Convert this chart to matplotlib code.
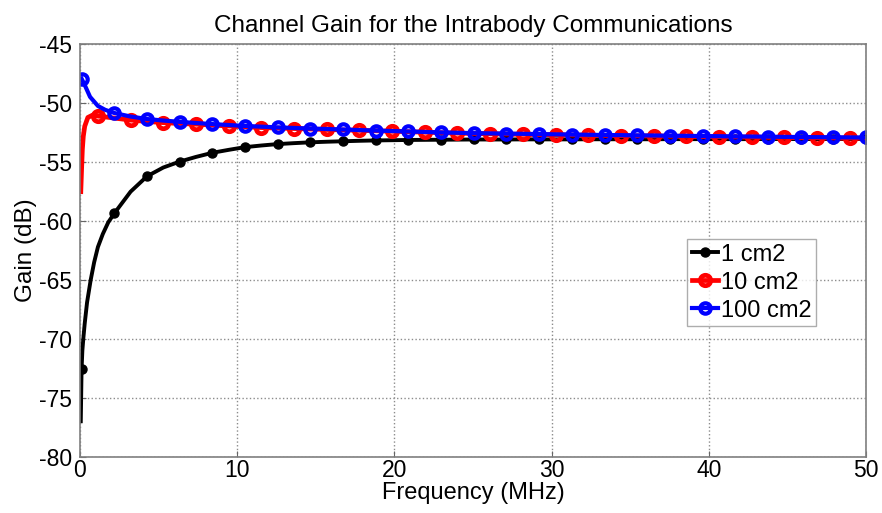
import numpy as np
import matplotlib.pyplot as plt

plt.rcParams['font.family'] = ['Liberation Sans', 'DejaVu Sans']
plt.rcParams['axes.unicode_minus'] = False

# frequency grid (MHz) shared by the three electrode sizes
freq = np.linspace(0.1, 50, 49)

gain_1cm2 = [-72.6, -62.2, -59.35, -57.5, -56.2, -55.45, -54.95, -54.55, -54.2, -53.95,
             -53.72, -53.58, -53.46, -53.38, -53.31, -53.26, -53.22, -53.18, -53.15, -53.13,
             -53.11, -53.1, -53.09, -53.08, -53.07, -53.07, -53.07, -53.06, -53.06, -53.06,
             -53.06, -53.05, -53.05, -53.05, -53.05, -53.05, -53.04, -53.04, -53.04, -53.04,
             -53.04, -53.04, -53.03, -53.03, -53.03, -53.03, -53.03, -53.03, -53.03]
gain_10cm2 = [-55.6, -51.08, -51.25, -51.42, -51.54, -51.64, -51.71, -51.77, -51.85, -51.92,
              -51.99, -52.06, -52.1, -52.14, -52.18, -52.22, -52.26, -52.29, -52.33, -52.37,
              -52.41, -52.45, -52.49, -52.53, -52.56, -52.59, -52.61, -52.63, -52.65, -52.67,
              -52.69, -52.71, -52.73, -52.74, -52.76, -52.78, -52.79, -52.81, -52.83, -52.84,
              -52.86, -52.87, -52.89, -52.9, -52.92, -52.93, -52.95, -52.96, -52.98]
gain_100cm2 = [-47.9, -50.22, -50.82, -51.12, -51.33, -51.46, -51.57, -51.67, -51.76, -51.84,
               -51.92, -51.98, -52.04, -52.09, -52.14, -52.18, -52.22, -52.27, -52.31, -52.35,
               -52.39, -52.43, -52.47, -52.5, -52.53, -52.55, -52.57, -52.59, -52.61, -52.63,
               -52.65, -52.67, -52.69, -52.7, -52.72, -52.73, -52.75, -52.76, -52.78, -52.79,
               -52.81, -52.82, -52.83, -52.85, -52.86, -52.87, -52.88, -52.89, -52.9]

# extra low-frequency samples where the curves change fast
low_f_1cm2 = [0.05, 0.15, 0.21, 0.3, 0.45, 0.68, 0.9, 1.45, 1.8]
low_g_1cm2 = [-77.0, -71.0, -70.0, -68.7, -66.9, -65.0, -63.5, -61.1, -60.1]
low_f_10cm2 = [0.05, 0.15, 0.21, 0.3, 0.5, 0.8]
low_g_10cm2 = [-57.5, -53.9, -52.8, -51.95, -51.2, -51.0]
low_f_100cm2 = [0.32, 0.64, 1.6]
low_g_100cm2 = [-48.5, -49.45, -50.55]

labels = ['1 cm2', '10 cm2', '100 cm2']


def merge(f_low, g_low, g):
    f = np.concatenate([f_low, freq])
    y = np.concatenate([g_low, g])
    order = np.argsort(f)
    return f[order], y[order]


def marker_idx(f, marks):
    return list(np.where(np.isin(f, marks))[0])


fig = plt.figure(figsize=(8.82, 5.13), dpi=100)
ax = fig.add_axes([0.0907, 0.110, 0.8912, 0.8033])

f1, y1 = merge(low_f_1cm2, low_g_1cm2, gain_1cm2)
f2, y2 = merge(low_f_10cm2, low_g_10cm2, gain_10cm2)
f3, y3 = merge(low_f_100cm2, low_g_100cm2, gain_100cm2)

ax.plot(f1, y1, color='black', lw=2.8, marker='o', ms=6.5, mfc='black', mec='black',
        markevery=marker_idx(f1, freq[::2]), label=labels[0])
ax.plot(f2, y2, color='red', lw=3.4, marker='o', ms=7.5, mfc='none', mec='red', mew=3.4,
        markevery=marker_idx(f2, freq[1::2]), label=labels[1])
ax.plot(f3, y3, color='blue', lw=3.0, marker='o', ms=7.5, mfc='none', mec='blue', mew=3.0,
        markevery=marker_idx(f3, freq[::2]), label=labels[2])

ax.set_xlim(0, 50)
ax.set_ylim(-80, -45)
ax.set_xticks(np.arange(0, 51, 10))
ax.set_yticks(np.arange(-80, -44, 5))
ax.grid(True, linestyle=':', color='#8c8c8c', lw=1.0)
ax.tick_params(direction='in', labelsize=16.5, length=4, color='#666666')
ax.tick_params(axis='x', pad=2)
ax.tick_params(axis='y', pad=6)
for s in ax.spines.values():
    s.set_color('#7f7f7f')
    s.set_linewidth(1.2)

ax.set_title('Channel Gain for the Intrabody Communications', fontsize=17.5, pad=9)
ax.set_xlabel('Frequency (MHz)', fontsize=17, labelpad=0)
ax.set_ylabel('Gain (dB)', fontsize=17.5, labelpad=1)

leg = ax.legend(loc='upper left', bbox_to_anchor=(0.772, 0.528), fontsize=17,
                handlelength=1.1, handletextpad=0.15, borderpad=0.2, labelspacing=0.25,
                frameon=True, fancybox=False, borderaxespad=0)
leg.get_frame().set_edgecolor('#999999')
leg.get_frame().set_linewidth(1.0)

fig.savefig('out.png', dpi=100)
